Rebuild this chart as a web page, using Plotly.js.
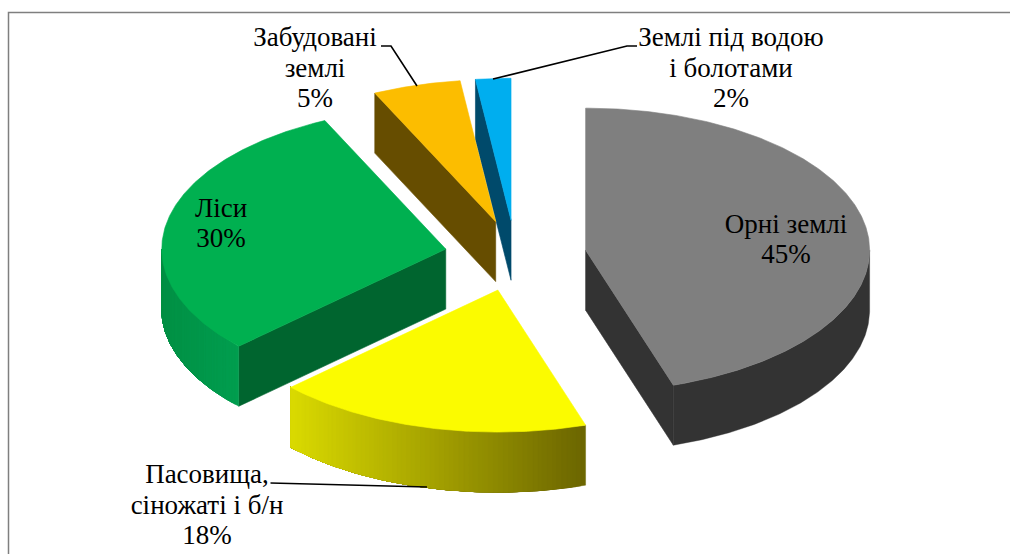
<!DOCTYPE html>
<html>
<head>
<meta charset="utf-8">
<script src="https://cdn.plot.ly/plotly-3.0.1.min.js"></script>
<style>
html,body{margin:0;padding:0;background:#fff;overflow:hidden}
#chart{width:1010px;height:554px}
</style>
</head>
<body>
<div id="chart"></div>
<script>
// Data
const categories = [["Орні землі"], ["Пасовища,", "сіножаті і б/н"], ["Ліси"], ["Забудовані", "землі"], ["Землі під водою", "і болотами"]];
const values = [45, 18, 30, 5, 2];
const explosion = [0.25, 0.25, 0.25, 0.25, 0.25];

// Styles
const topColors = ["#7f7f7f", "#fbfb00", "#00b050", "#fcbd00", "#00aeef"];
const cutColors = ["#333333", null, "#00652f", "#664d00", "#004a6b"];
const wallFrom = ["#333333", "#6b6500", "#009e4f", null, null];   // colour at the right end of the outer wall
const wallTo   = ["#333333", "#dada00", "#009045", null, null];   // colour at the left end of the outer wall
const labelX = [786, 207, 221, 315, 731];
const labelY = [241, 507, 225, 70, 70];

{
  const lineGap = 30.5;
  // Projection of the exploded tilted pie
  const cx = 515.5, cy = 255.7, rx = 284, ry = 142, depth = 60;
  const rad = d => d * Math.PI / 180;
  const total = values.reduce((a, b) => a + b, 0);
  const hex = c => [1, 3, 5].map(i => parseInt(c.substr(i, 2), 16));
  const mix = (a, b, t) => { const A = hex(a), B = hex(b);
    return "rgb(" + A.map((v, i) => Math.round(v + (B[i] - v) * t)).join(",") + ")"; };

  let acc = 0;
  const slices = values.map((v, i) => {
    const a0 = acc / total * 360; acc += v; const a1 = acc / total * 360;
    const m = rad((a0 + a1) / 2);
    const ax = cx + explosion[i] * rx * Math.sin(m);
    const ay = cy - explosion[i] * ry * Math.cos(m);
    return { i, a0, a1, ax, ay,
      px: a => ax + rx * Math.sin(rad(a)),
      py: a => ay - ry * Math.cos(rad(a)) };
  });

  const traces = [];
  const poly = (xs, ys, color, lw) => traces.push({
    type: "scatter", mode: "lines", x: xs.concat(xs[0]), y: ys.concat(ys[0]),
    fill: "toself", fillcolor: color, line: { color, width: lw === undefined ? 0.6 : lw },
    hoverinfo: "skip", showlegend: false });

  const drawSlice = s => {
    const i = s.i;
    const cutAngle = i === 0 ? s.a1 : i === 2 ? s.a0 : (i >= 3 ? s.a0 : null);
    if (cutAngle !== null) {
      poly([s.ax, s.px(cutAngle), s.px(cutAngle), s.ax],
           [s.ay, s.py(cutAngle), s.py(cutAngle) + depth, s.ay + depth], cutColors[i]);
    }
    // outer curved wall: painted from one end to the other, each band covering the rest of the wall
    if (wallFrom[i]) {
      const from = Math.max(s.a0, 90), to = Math.min(s.a1, 270);
      const solid = wallFrom[i] === wallTo[i];
      const n = solid ? 1 : Math.ceil(to - from);
      const xL = s.px(to), xR = s.px(from);
      for (let k = 0; k < n; k++) {
        const b0 = from + (to - from) * k / n;
        const t = (s.px(b0 + (to - from) / n / 2) - xR) / (xL - xR);
        const xs = [], ys = [];
        const m = Math.ceil((to - b0) * 2) + 2;
        for (let j = 0; j <= m; j++) { const a = b0 + (to - b0) * j / m; xs.push(s.px(a)); ys.push(s.py(a)); }
        for (let j = m; j >= 0; j--) { const a = b0 + (to - b0) * j / m; xs.push(s.px(a)); ys.push(s.py(a) + depth); }
        poly(xs, ys, mix(wallFrom[i], wallTo[i], t), 0.4);
      }
    }
    const xs = [s.ax], ys = [s.ay];
    const steps = Math.max(8, Math.ceil((s.a1 - s.a0) * 2));
    for (let k = 0; k <= steps; k++) {
      const a = s.a0 + (s.a1 - s.a0) * k / steps;
      xs.push(s.px(a)); ys.push(s.py(a));
    }
    poly(xs, ys, topColors[i]);
  };
  [4, 3, 2, 0, 1].forEach(i => drawSlice(slices[i]));

  // Leader lines
  [
    { x: [270.5, 427], y: [483, 487] },
    { x: [381, 391, 417], y: [46, 46, 86] },
    { x: [637, 627, 493], y: [46, 46, 79] }
  ].forEach(l => traces.push({ type: "scatter", mode: "lines", x: l.x, y: l.y,
    line: { color: "#000000", width: 1.6 }, hoverinfo: "skip", showlegend: false }));

  // Labels as a text trace
  const tx = [], ty = [], tt = [];
  categories.forEach((c, i) => {
    const rows = c.concat(values[i] + "%");
    rows.forEach((row, j) => {
      tx.push(labelX[i]);
      ty.push(labelY[i] + (j - (rows.length - 1) / 2) * lineGap);
      tt.push(row);
    });
  });
  traces.push({ type: "scatter", mode: "text", x: tx, y: ty, text: tt, textposition: "middle center",
    textfont: { family: "Liberation Serif", size: 27, color: "#000000" },
    hoverinfo: "skip", showlegend: false, cliponaxis: false });

  const layout = {
    width: 1010, height: 554,
    margin: { l: 0, r: 0, t: 0, b: 0, pad: 0 },
    paper_bgcolor: "#ffffff", plot_bgcolor: "#ffffff",
    showlegend: false,
    xaxis: { range: [0, 1010], visible: false, fixedrange: true },
    yaxis: { range: [554, 0], visible: false, fixedrange: true },
    shapes: [{ type: "rect", xref: "x", yref: "y", x0: 8.5, y0: 12.5, x1: 1020, y1: 570,
               line: { color: "#7f7f7f", width: 1.5 }, layer: "below" }]
  };
  Plotly.newPlot("chart", traces, layout, { displayModeBar: false });
}
</script>
</body>
</html>
